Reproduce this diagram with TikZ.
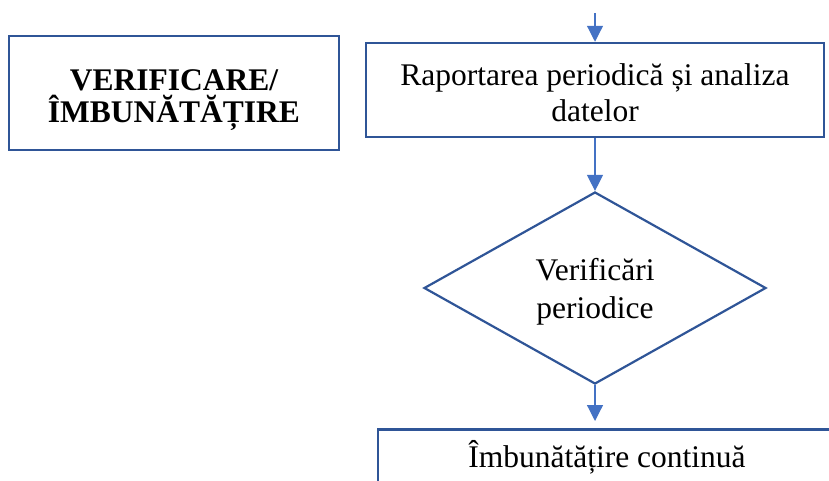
\documentclass[tikz,border=0pt]{standalone}
\usepackage{fontspec}
\setmainfont{Liberation Serif}
\usetikzlibrary{shapes.geometric,arrows.meta}
\definecolor{boxblue}{HTML}{2F5597}
\definecolor{arrowblue}{HTML}{4472C4}
\begin{document}
\begin{tikzpicture}[x=1pt,y=-1pt,
  box/.style={draw=boxblue, line width=2.5pt, inner sep=0pt},
  decision/.style={diamond, draw=boxblue, line width=2.2pt, inner sep=0pt, aspect=1.78},
  caption/.style={align=center, inner sep=0pt, font=\fontsize{31.5}{36}\selectfont},
  flow/.style={draw=arrowblue, line width=1.2pt, -{Triangle[length=16pt,width=16pt]}}]
\clip (0,0) rectangle (829,480);
% stage title
\node[box, minimum width=330, minimum height=114] (title) at (174,93) {};
\node[caption, yshift=-7pt, font=\bfseries\fontsize{31.5}{32}\selectfont] (titletext)
  at (title.center) {VERIFICARE/\\ÎMBUNĂTĂȚIRE};
% process steps
\node[box, minimum width=458, minimum height=94] (report) at (595,90) {};
\node[caption, yshift=-2.5pt] (reporttext) at (report.center)
  {Raportarea periodică și analiza\\datelor};
\node[decision, minimum width=342, minimum height=192] (check) at (595,288) {};
\node[caption, yshift=-4pt, font=\fontsize{31.5}{38}\selectfont] (checktext)
  at (check.center) {Verificări\\periodice};
\node[box, minimum width=458, minimum height=94, anchor=north] (improve) at (607,428) {};
\node[caption, anchor=base] (improvetext) at (607,467) {Îmbunătățire continuă};
% connectors
\coordinate (entry) at (595,13);
\draw[flow] (entry) -- (entry |- report.north);
\draw[flow] (report.south) -- (check.north);
\draw[flow, shorten >=7pt] (check.south) -- (check.south |- improve.north);
\end{tikzpicture}
\end{document}
